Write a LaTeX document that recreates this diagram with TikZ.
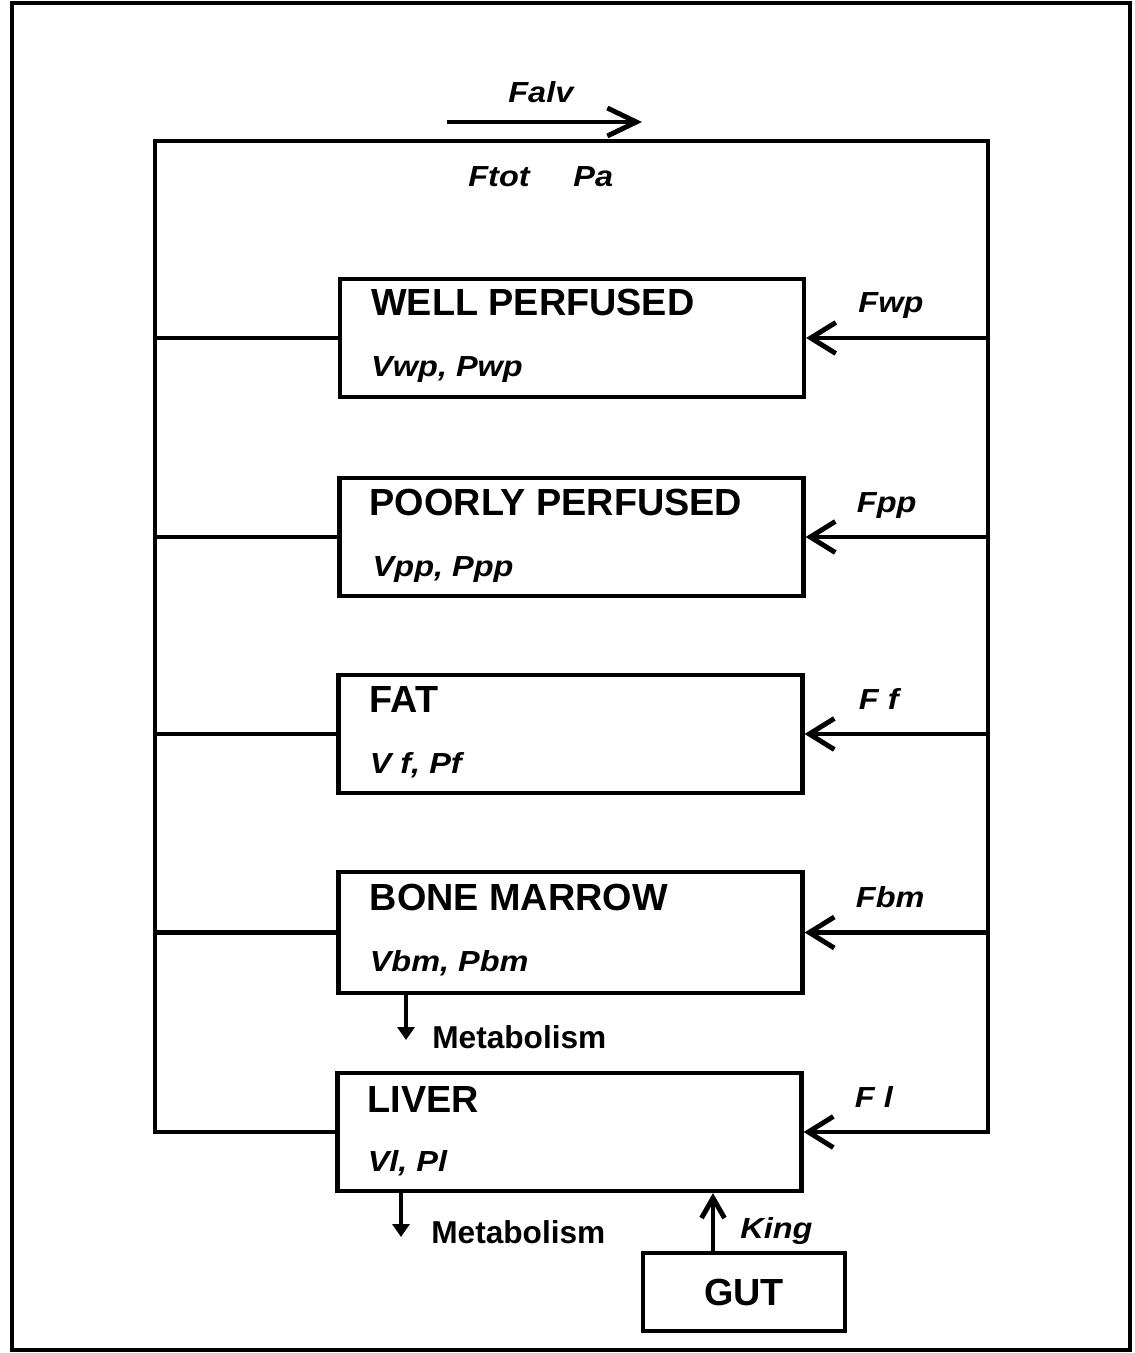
\documentclass[tikz,border=0pt]{standalone}
\usepackage{fontspec}
\setmainfont{Liberation Sans}
\newfontfamily\lblfont[FakeStretch=1.12]{Liberation Sans}
\usetikzlibrary{arrows.meta,positioning,calc}

\begin{document}
\begin{tikzpicture}[
    organ/.style={draw, line width=2.4pt, minimum width=9.28cm, minimum height=2.36cm},
    title/.style={anchor=base west, inner sep=0pt, font=\fontsize{21.5}{25}\selectfont\bfseries},
    param/.style={anchor=base west, inner sep=0pt, font=\lblfont\fontsize{16.5}{19}\selectfont\bfseries\itshape},
    metlbl/.style={anchor=base west, inner sep=0pt, font=\fontsize{18}{22}\selectfont\bfseries},
    pipe/.style={line width=2.8pt},
    arr/.style={pipe, -{Straight Barb[length=0.5cm, width=0.62cm]}},
    met/.style={line width=2.2pt, -{Triangle[length=0.26cm, width=0.34cm]}}
]
\useasboundingbox (0,0) rectangle (22.68,-27.06);
\draw[line width=2.6pt] (0.24,-0.06) rectangle (22.60,-27.0);

% compartments
\node[organ] (wp) at (11.44,-6.76) {};
\node[organ] (pp) at (11.43,-10.74) {};
\node[organ] (fat) at (11.41,-14.68) {};
\node[organ, minimum height=2.42cm] (bm) at (11.41,-18.65) {};
\node[organ] (liver) at (11.39,-22.64) {};
\node[draw, line width=2.4pt, minimum width=4.04cm, minimum height=1.56cm,
      font=\fontsize{21.5}{25}\selectfont\bfseries] (gut) at (14.88,-25.84) {GUT};

\node[title] (wpname) at ($(wp.west)+(0.66,0.44)$) {WELL PERFUSED};
\node[param] (wpvol) at ($(wp.west)+(0.66,-0.78)$) {Vwp, Pwp};
\node[title] (ppname) at ($(pp.west)+(0.64,0.44)$) {POORLY PERFUSED};
\node[param] (ppvol) at ($(pp.west)+(0.70,-0.78)$) {Vpp, Ppp};
\node[title] (fatname) at ($(fat.west)+(0.66,0.44)$) {FAT};
\node[param] (fatvol) at ($(fat.west)+(0.66,-0.78)$) {V f, Pf};
\node[title] (bmname) at ($(bm.west)+(0.66,0.44)$) {BONE MARROW};
\node[param] (bmvol) at ($(bm.west)+(0.66,-0.78)$) {Vbm, Pbm};
\node[title] (livername) at ($(liver.west)+(0.64,0.40)$) {LIVER};
\node[param] (livervol) at ($(liver.west)+(0.64,-0.78)$) {Vl, Pl};

% arterial loop
\coordinate (tl) at (3.10,-2.82);
\coordinate (tr) at (19.76,-2.82);
\draw[arr] (liver.west) -| (tl) -- (tr) |- (liver.east);
\draw[pipe] (wp.west) -- (wp.west -| tl);
\draw[pipe] (pp.west) -- (pp.west -| tl);
\draw[pipe] (fat.west) -- (fat.west -| tl);
\draw[pipe] (bm.west) -- (bm.west -| tl);
\draw[arr] (wp.east -| tr) -- (wp.east);
\draw[arr] (pp.east -| tr) -- (pp.east);
\draw[arr] (fat.east -| tr) -- (fat.east);
\draw[arr] (bm.east -| tr) -- (bm.east);

\node[param] (fwp) at ($(wp.east)+(1.04,0.50)$) {Fwp};
\node[param] (fpp) at ($(pp.east)+(1.02,0.50)$) {Fpp};
\node[param] (ff) at ($(fat.east)+(1.08,0.50)$) {F f};
\node[param] (fbm) at ($(bm.east)+(1.02,0.50)$) {Fbm};
\node[param] (fl) at ($(liver.east)+(1.02,0.50)$) {F l};

% alveolar flow
\coordinate (alvin) at (8.94,-2.44);
\coordinate (alvout) at (12.84,-2.44);
\draw[pipe, -{Straight Barb[length=0.58cm, width=0.56cm]}] (alvin) -- (alvout);
\node[param] (falv) at (10.16,-2.06) {Falv};
\node[param] (ftot) at (9.36,-3.74) {Ftot};
\node[param] (pa) at (11.46,-3.74) {Pa};

% metabolism and gut input
\coordinate (bmdrain) at (8.12,-20.80);
\draw[met] (bmdrain |- bm.south) -- (bmdrain);
\node[metlbl] (bmmet) at (8.64,-20.96) {Metabolism};
\coordinate (liverdrain) at (8.02,-24.74);
\draw[met] (liverdrain |- liver.south) -- (liverdrain);
\node[metlbl] (livermet) at (8.62,-24.86) {Metabolism};
\coordinate (kin) at (14.26,-25.06);
\draw[pipe, -{Straight Barb[length=0.4cm, width=0.46cm]}] (kin) -- (kin |- liver.south);
\node[param] (king) at (14.80,-24.76) {King};
\end{tikzpicture}
\end{document}
